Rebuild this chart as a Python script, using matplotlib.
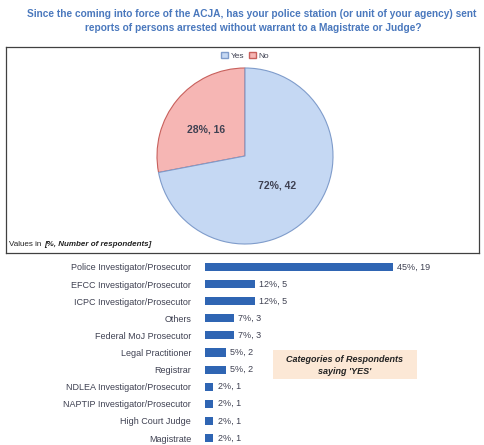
"""ACJA survey: pie of Yes/No answers plus bar chart of respondent categories saying Yes."""

import matplotlib

matplotlib.use("Agg")

import matplotlib.pyplot as plt
from matplotlib.patches import Patch, Rectangle

plt.rcParams["font.family"] = ["Liberation Sans", "DejaVu Sans"]

# pie data
answers = ["No", "Yes"]
answer_pct = [28, 72]
answer_counts = [16, 42]

# bar data (categories of respondents saying "YES")
categories = [
    "Police Investigator/Prosecutor",
    "EFCC Investigator/Prosecutor",
    "ICPC Investigator/Prosecutor",
    "Others",
    "Federal MoJ Prosecutor",
    "Legal Practitioner",
    "Registrar",
    "NDLEA Investigator/Prosecutor",
    "NAPTIP Investigator/Prosecutor",
    "High Court Judge",
    "Magistrate",
]
category_pct = [45, 12, 12, 7, 7, 5, 5, 2, 2, 2, 2]
category_counts = [19, 5, 5, 3, 3, 2, 2, 1, 1, 1, 1]

TITLE_COLOR = "#4a78bd"
TEXT_COLOR = "#3f4152"
YES_FILL, YES_EDGE = "#c5d8f3", "#7f9ccb"
NO_FILL, NO_EDGE = "#f6b6b4", "#c8605c"
BAR_COLOR = "#2f65b3"

W, H = 485, 445
fig = plt.figure(figsize=(W / 100, H / 100), dpi=100)


def px_axes(x0, y0, x1, y1):
    """Axes placed with pixel coords measured from the top-left corner."""
    return fig.add_axes([x0 / W, 1 - y1 / H, (x1 - x0) / W, (y1 - y0) / H])


fig.text(252 / W, 1 - 14 / H,
         "Since the coming into force of the ACJA, has your police station (or unit of your agency) sent",
         ha="center", va="center", fontsize=7.3, fontweight="bold", color=TITLE_COLOR)
fig.text(253 / W, 1 - 28 / H,
         "reports of persons arrested without warrant to a Magistrate or Judge?",
         ha="center", va="center", fontsize=7.3, fontweight="bold", color=TITLE_COLOR)

# ---- pie panel ----
box_x0, box_y0, box_x1, box_y1 = 6, 47, 479, 253
pie_ax = px_axes(box_x0, box_y0, box_x1, box_y1)
bw, bh = box_x1 - box_x0, box_y1 - box_y0
cx, cy, radius = 245 - box_x0, box_y1 - 156, 88

wedges, _ = pie_ax.pie(
    answer_pct,
    startangle=90,
    counterclock=True,
    colors=[NO_FILL, YES_FILL],
    radius=radius,
    center=(cx, cy),
    frame=True,
    wedgeprops=dict(linewidth=0.8),
)
wedges[0].set_edgecolor(NO_EDGE)
wedges[1].set_edgecolor(YES_EDGE)

label_pos = {"No": (206, 129), "Yes": (277, 186)}
for name, pct, cnt in zip(answers, answer_pct, answer_counts):
    lx, ly = label_pos[name]
    pie_ax.text(lx - box_x0, box_y1 - ly, f"{pct}%, {cnt}", ha="center", va="center",
                fontsize=7.5, fontweight="bold", color=TEXT_COLOR)

pie_ax.set_xlim(0, bw)
pie_ax.set_ylim(0, bh)
pie_ax.set_aspect("auto")
pie_ax.set_xticks([])
pie_ax.set_yticks([])
for spine in pie_ax.spines.values():
    spine.set_color("#404040")
    spine.set_linewidth(0.9)

pie_ax.legend(
    handles=[Patch(facecolor=YES_FILL, edgecolor=YES_EDGE, label="Yes"),
             Patch(facecolor=NO_FILL, edgecolor=NO_EDGE, label="No")],
    loc="center", bbox_to_anchor=((245 - box_x0) / bw, (box_y1 - 56) / bh),
    ncol=2, frameon=False, fontsize=6, handlelength=0.8, handleheight=0.8,
    handletextpad=0.3, columnspacing=0.6, labelcolor=TEXT_COLOR,
)

pie_ax.text(3, 8, "Values in", fontsize=5.8, color="#222222", va="center", ha="left")
pie_ax.text(38, 8, "[%, Number of respondents]", fontsize=5.8, color="#222222",
            va="center", ha="left", fontweight="bold", fontstyle="italic")

# ---- bar panel ----
bar_x0 = 205
px_per_pct = (393 - bar_x0) / 45
bar_ax = px_axes(bar_x0, 255, W, H)
row0, row_gap = 267, 17.1
bar_ax.set_ylim((H - row0) / row_gap, (255 - row0) / row_gap)
bar_ax.set_xlim(0, (W - bar_x0) / px_per_pct)

ys = list(range(len(categories)))
bar_ax.barh(ys, category_pct, height=0.47, color=BAR_COLOR, edgecolor="none")
for y, pct, cnt in zip(ys, category_pct, category_counts):
    bar_ax.text(pct + 1.0, y, f"{pct}%, {cnt}", va="center", ha="left",
                fontsize=6.5, color=TEXT_COLOR)
bar_ax.set_yticks(ys)
bar_ax.set_yticklabels(categories, fontsize=6.5, color=TEXT_COLOR)
bar_ax.tick_params(axis="y", length=0, pad=10)
bar_ax.set_xticks([])
for spine in bar_ax.spines.values():
    spine.set_visible(False)

# callout box
fig.patches.append(Rectangle((273 / W, 1 - 379 / H), (417 - 273) / W, (379 - 350) / H,
                             transform=fig.transFigure, facecolor="#fce8d6",
                             edgecolor="none"))
fig.text(345 / W, 1 - 359 / H, "Categories of Respondents", ha="center", va="center",
         fontsize=6.5, fontweight="bold", fontstyle="italic", color="#222222")
fig.text(345 / W, 1 - 371 / H, "saying 'YES'", ha="center", va="center",
         fontsize=6.5, fontweight="bold", fontstyle="italic", color="#222222")

fig.savefig("out.png", dpi=100)
